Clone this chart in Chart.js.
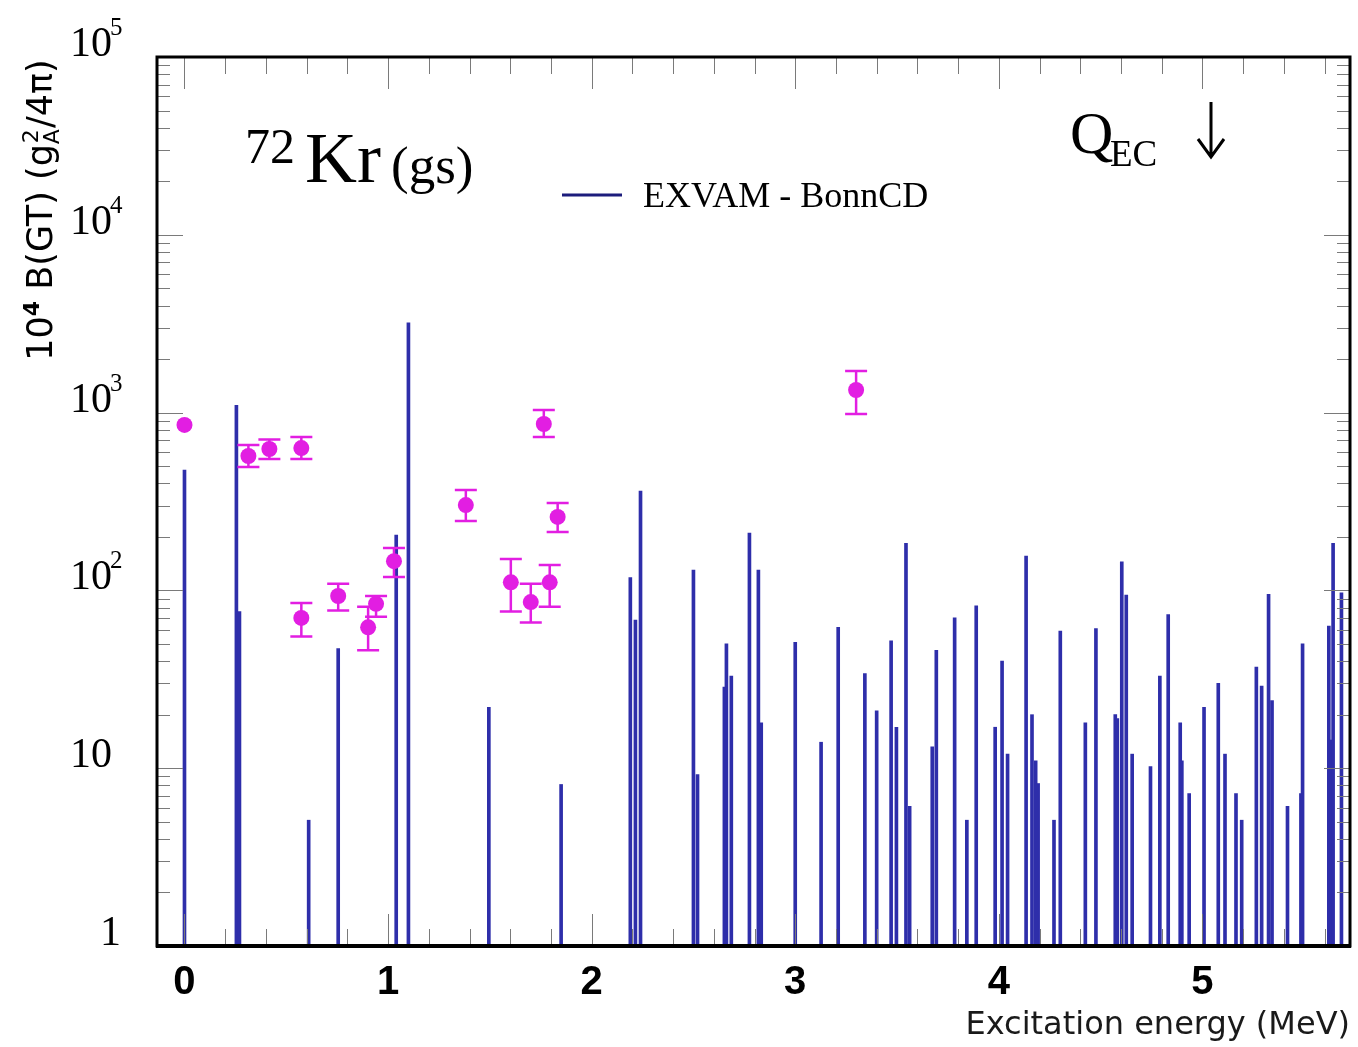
<!DOCTYPE html>
<html>
<head>
<meta charset="utf-8">
<script src="https://cdn.jsdelivr.net/npm/chart.js@4.4.1/dist/chart.umd.min.js"></script>
<style>
body { margin: 0; background: #fff; }
#wrap { position: relative; width: 1358px; height: 1047px; }
</style>
</head>
<body>
<div id="wrap"><canvas id="mycanvas"></canvas></div>
<script>
// EXVAM - BonnCD levels: excitation energy (MeV) and 10^4 B(GT)
var levelEnergy = [0.0, 0.255, 0.27, 0.61, 0.755, 1.04, 1.10, 1.495, 1.85,
	2.19, 2.215, 2.24, 2.50, 2.52, 2.652, 2.662, 2.686, 2.775, 2.819, 2.833,
	3.0, 3.127, 3.211, 3.342, 3.40, 3.471, 3.497, 3.544, 3.562, 3.673, 3.693,
	3.783, 3.843, 3.889, 3.982, 4.016, 4.043, 4.134, 4.163, 4.181, 4.193,
	4.271, 4.302, 4.425, 4.477, 4.572, 4.582, 4.604, 4.626, 4.655, 4.745,
	4.791, 4.832, 4.891, 4.899, 4.935, 5.008, 5.078, 5.111, 5.165, 5.193,
	5.265, 5.291, 5.325, 5.342, 5.418, 5.484, 5.492, 5.621, 5.631, 5.642, 5.683];
var levelBgt = [475, 1100, 76, 5.1, 47, 205, 3200, 22, 8.1,
	118, 68, 362, 130, 9.2, 28.6, 50, 33, 210, 130, 18,
	51, 14, 62, 34, 21, 52, 17, 184, 6.1, 13.2, 46,
	70, 5.1, 82, 17, 40, 12, 156, 20, 11, 8.2,
	5.1, 59, 18, 61, 20, 19, 145, 94, 12, 10.2,
	33, 73, 18, 11, 7.2, 22, 30, 12, 7.2, 5.1,
	37, 29, 95, 24, 6.1, 7.2, 50, 63, 14.4, 184, 97];

// experimental points with error bars
var expEnergy = [0.0, 0.314, 0.417, 0.574, 0.574, 0.755, 0.902, 0.941, 1.029,
	1.382, 1.603, 1.701, 1.765, 1.794, 1.833, 3.299];
var expBgt = [852, 570, 624, 632, 70, 93, 62, 84, 146,
	302, 111, 86, 863, 111, 259, 1340];
var expLow = [852, 495, 548, 548, 55, 77, 46, 71, 119,
	246, 76, 66, 729, 81, 213, 982];
var expHigh = [852, 657, 705, 729, 85, 109, 81, 93, 173,
	367, 150, 109, 1035, 139, 310, 1714];

var xTicks = [0, 1, 2, 3, 4, 5];
var xTickLabels = ['0', '1', '2', '3', '4', '5'];
var yTicks = [1, 10, 100, 1000, 10000, 100000];
var yTickBase = ['1', '10', '10', '10', '10', '10'];
var yTickExp = ['', '', '2', '3', '4', '5'];

var levelData = [];
for (var i in levelEnergy) {
	levelData.push({x: levelEnergy[i], y: levelBgt[i]});
}
var expData = [];
for (var j in expEnergy) {
	expData.push({x: expEnergy[j], y: expBgt[j]});
}

var magenta = '#e21ee2';
var serif = '"Liberation Serif", "Times New Roman", serif';
var sans = '"Liberation Sans", Arial, sans-serif';

function drawParts(ctx, parts, x, y) {
	// parts: [text, font, dy], drawn left to right
	ctx.textAlign = 'left';
	for (var k = 0; k < parts.length; k++) {
		ctx.font = parts[k][1];
		ctx.fillText(parts[k][0], x, y + parts[k][2]);
		x += ctx.measureText(parts[k][0]).width;
	}
	return x;
}

var errorBars = {
	id: 'errorBars',
	afterDatasetDraw: function(chart, args) {
		if (args.index !== 0) return;
		var ctx = chart.ctx, xs = chart.scales.x, ys = chart.scales.y;
		ctx.save();
		ctx.strokeStyle = magenta;
		ctx.lineWidth = 2.5;
		for (var k = 0; k < expEnergy.length; k++) {
			if (expLow[k] === expHigh[k]) continue;
			var px = xs.getPixelForValue(expEnergy[k]);
			var y1 = ys.getPixelForValue(expLow[k]);
			var y2 = ys.getPixelForValue(expHigh[k]);
			ctx.beginPath();
			ctx.moveTo(px, y1); ctx.lineTo(px, y2);
			ctx.moveTo(px - 11, y1); ctx.lineTo(px + 11, y1);
			ctx.moveTo(px - 11, y2); ctx.lineTo(px + 11, y2);
			ctx.stroke();
		}
		ctx.restore();
	}
};

var frame = {
	id: 'frame',
	afterDraw: function(chart) {
		var ctx = chart.ctx, a = chart.chartArea;
		var xs = chart.scales.x, ys = chart.scales.y;
		ctx.save();

		// ticks
		ctx.strokeStyle = '#7a7a7a';
		ctx.lineWidth = 1;
		ctx.beginPath();
		for (var t = 0; t <= 28; t++) {
			var v = t * 0.2;
			var px = Math.round(xs.getPixelForValue(v)) + 0.5;
			var len = (t % 5 === 0) ? 32 : 17;
			ctx.moveTo(px, a.bottom); ctx.lineTo(px, a.bottom - len);
			ctx.moveTo(px, a.top); ctx.lineTo(px, a.top + len);
		}
		for (var d = 0; d < 5; d++) {
			for (var m = 1; m <= 9; m++) {
				var py = Math.round(ys.getPixelForValue(m * Math.pow(10, d))) + 0.5;
				var l2 = (m === 1) ? 26 : 13;
				ctx.moveTo(a.left, py); ctx.lineTo(a.left + l2, py);
				ctx.moveTo(a.right, py); ctx.lineTo(a.right - l2, py);
			}
		}
		ctx.stroke();

		// frame
		ctx.strokeStyle = '#000';
		ctx.lineWidth = 3;
		ctx.strokeRect(a.left, a.top, a.right - a.left, a.bottom - a.top);
		ctx.lineWidth = 4;
		ctx.beginPath();
		ctx.moveTo(a.left - 1, a.bottom); ctx.lineTo(a.right + 1, a.bottom);
		ctx.stroke();

		ctx.fillStyle = '#000';
		ctx.textBaseline = 'alphabetic';

		// y tick labels
		for (var n = 0; n < yTicks.length; n++) {
			var ty = ys.getPixelForValue(yTicks[n]);
			ctx.font = '42px ' + serif;
			if (yTickExp[n] === '' && yTickBase[n] === '1') {
				ctx.textAlign = 'right';
				ctx.fillText(yTickBase[n], 121, ty - 1);
			} else {
				ctx.textAlign = 'left';
				ctx.fillText(yTickBase[n], 70, ty - 1);
				if (yTickExp[n] !== '') {
					ctx.font = '25px ' + serif;
					ctx.fillText(yTickExp[n], 110, ty - 22);
				}
			}
		}

		// x tick labels
		ctx.textAlign = 'center';
		ctx.textBaseline = 'middle';
		ctx.font = 'bold 40px ' + sans;
		for (var q = 0; q < xTicks.length; q++) {
			ctx.fillText(xTickLabels[q], xs.getPixelForValue(xTicks[q]), 983);
		}

		// x axis title
		ctx.textAlign = 'right';
		ctx.textBaseline = 'alphabetic';
		ctx.fillStyle = '#1a1a1a';
		ctx.font = '32px "DejaVu Sans", sans-serif';
		ctx.fillText('Excitation energy (MeV)', 1350, 1034);

		// y axis title, rotated
		ctx.fillStyle = '#000';
		ctx.save();
		ctx.translate(52, 210);
		ctx.rotate(-Math.PI / 2);
		ctx.textAlign = 'left';
		var f1 = '35px "DejaVu Sans", sans-serif', f2 = '22px "DejaVu Sans", sans-serif';
		var parts1 = [['10', f1, 0], ['4', 'bold ' + f2, -13], [' B(GT) (g', f1, 0]];
		var parts2 = [['/4\u03c0)', f1, 0]];
		var w = 0;
		for (var p = 0; p < parts1.length; p++) { ctx.font = parts1[p][1]; w += ctx.measureText(parts1[p][0]).width; }
		ctx.font = f2; var wsup = ctx.measureText('A').width + 1;
		ctx.font = f1; w += wsup + ctx.measureText(parts2[0][0]).width;
		var xx = drawParts(ctx, parts1, -w / 2, 0);
		ctx.font = f2;
		ctx.fillText('2', xx + 1, -14);
		ctx.fillText('A', xx, 7);
		drawParts(ctx, parts2, xx + wsup, 0);
		ctx.restore();

		// nucleus label
		drawParts(ctx, [['72', '50px ' + serif, 0]], 245, 163);
		drawParts(ctx, [['Kr', '72px ' + serif, 0]], 305, 182);
		drawParts(ctx, [['(gs)', '53px ' + serif, 0]], 391, 183);

		// legend
		ctx.strokeStyle = '#1c1c7c';
		ctx.lineWidth = 3;
		ctx.beginPath();
		ctx.moveTo(562, 195); ctx.lineTo(622, 195);
		ctx.stroke();
		drawParts(ctx, [['EXVAM - BonnCD', '36px ' + serif, 0]], 643, 207);

		// Q_EC marker
		drawParts(ctx, [['Q', '60px ' + serif, 0]], 1070, 153);
		drawParts(ctx, [['EC', '37px ' + serif, 0]], 1110, 166);
		ctx.strokeStyle = '#000';
		ctx.lineWidth = 3;
		ctx.beginPath();
		ctx.moveTo(1211, 102); ctx.lineTo(1211, 156);
		ctx.moveTo(1198, 139); ctx.lineTo(1211, 157); ctx.lineTo(1224, 139);
		ctx.stroke();

		ctx.restore();
	}
};

var ctx = document.getElementById('mycanvas');
var chart = new Chart(ctx, {
	type: 'bar',
	data: {
		datasets: [
			{
				label: 'EXVAM - BonnCD',
				data: levelData,
				backgroundColor: '#2e2eaa',
				borderColor: '#22228a',
				borderWidth: 0,
				barThickness: 3,
				grouped: false,
				order: 1
			},
			{
				type: 'scatter',
				label: 'Experiment',
				data: expData,
				backgroundColor: magenta,
				borderColor: magenta,
				pointRadius: 8,
				pointBorderWidth: 0,
				order: 0
			}
		]
	},
	options: {
		responsive: true,
		maintainAspectRatio: false,
		animation: false,
		layout: { padding: { left: 157, top: 57, right: 6, bottom: 101 } },
		plugins: { legend: { display: false }, tooltip: { enabled: false } },
		scales: {
			x: { type: 'linear', min: -0.135, max: 5.725, display: false, offset: false },
			y: { type: 'logarithmic', min: 1, max: 100000, display: false }
		}
	},
	plugins: [errorBars, frame]
});
</script>
</body>
</html>
